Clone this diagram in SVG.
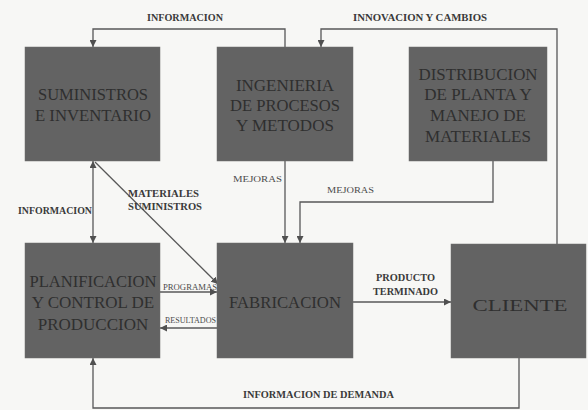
<svg xmlns="http://www.w3.org/2000/svg" width="588" height="410" viewBox="0 0 588 410">
<style>
.box{fill:#636363;stroke:#6e6e6e;stroke-width:0.5}
.bt{font-family:"Liberation Serif","Times New Roman",serif;font-size:17px;fill:#2f2f2f;text-anchor:middle}
.lb{font-family:"Liberation Serif","Times New Roman",serif;font-size:10px;font-weight:bold;fill:#3a3a3a}
.ls{font-family:"Liberation Serif","Times New Roman",serif;font-size:9px;fill:#4a4a4a}
.c{fill:none;stroke:#585858;stroke-width:1.3}
</style>
<defs>
<marker id="ah" viewBox="0 0 10 10" refX="10" refY="5" markerWidth="7" markerHeight="7" markerUnits="userSpaceOnUse" orient="auto-start-reverse">
<path d="M0,0 L10,5 L0,10 z" fill="#505050"/>
</marker>
</defs>
<rect width="588" height="410" fill="#f7f7f5"/>
<g id="connectors">
<polyline class="c" points="285,47 285,29 93,29 93,47" marker-end="url(#ah)"/>
<polyline class="c" points="557,244 557,29 321,29 321,47" marker-end="url(#ah)"/>
<line class="c" x1="93" y1="161" x2="93" y2="243" marker-start="url(#ah)" marker-end="url(#ah)"/>
<line class="c" x1="95" y1="162" x2="218" y2="284" marker-end="url(#ah)"/>
<line class="c" x1="285" y1="161" x2="285" y2="243" marker-end="url(#ah)"/>
<polyline class="c" points="493,161 493,202 300,202 300,243" marker-end="url(#ah)"/>
<line class="c" x1="160" y1="292" x2="217" y2="292" marker-end="url(#ah)"/>
<line class="c" x1="217" y1="328" x2="160" y2="328" marker-end="url(#ah)"/>
<line class="c" x1="353" y1="302" x2="451" y2="302" marker-end="url(#ah)"/>
<polyline class="c" points="519,358 519,408 93,408 93,358" marker-end="url(#ah)"/>
<text class="lb" x="147" y="21" textLength="76" lengthAdjust="spacingAndGlyphs">INFORMACION</text>
<text class="lb" x="353" y="21" textLength="134" lengthAdjust="spacingAndGlyphs">INNOVACION Y CAMBIOS</text>
<text class="lb" x="18" y="214" textLength="74" lengthAdjust="spacingAndGlyphs">INFORMACION</text>
<text class="lb" x="128" y="197" textLength="71" lengthAdjust="spacingAndGlyphs">MATERIALES</text>
<text class="lb" x="128" y="210" textLength="74" lengthAdjust="spacingAndGlyphs">SUMINISTROS</text>
<text class="ls" x="233" y="182" textLength="49" lengthAdjust="spacingAndGlyphs">MEJORAS</text>
<text class="ls" x="327" y="193" textLength="47" lengthAdjust="spacingAndGlyphs">MEJORAS</text>
<text class="ls" x="163" y="290" font-size="7.5" textLength="54" lengthAdjust="spacingAndGlyphs">PROGRAMAS</text>
<text class="ls" x="165" y="323" font-size="7.5" textLength="51" lengthAdjust="spacingAndGlyphs">RESULTADOS</text>
<text class="lb" x="376" y="281" textLength="59" lengthAdjust="spacingAndGlyphs">PRODUCTO</text>
<text class="lb" x="373" y="295" textLength="65" lengthAdjust="spacingAndGlyphs">TERMINADO</text>
<text class="lb" x="243" y="398" textLength="151" lengthAdjust="spacingAndGlyphs">INFORMACION DE DEMANDA</text>
</g>
<g id="suministros">
<rect class="box" x="25" y="47" width="135" height="114"/>
<text class="bt" x="93" y="100" textLength="110" lengthAdjust="spacingAndGlyphs">SUMINISTROS</text>
<text class="bt" x="93" y="121" textLength="116" lengthAdjust="spacingAndGlyphs">E INVENTARIO</text>
</g>
<g id="ingenieria">
<rect class="box" x="217" y="47" width="136" height="114"/>
<text class="bt" x="285" y="91">INGENIERIA</text>
<text class="bt" x="285" y="111" textLength="110" lengthAdjust="spacingAndGlyphs">DE PROCESOS</text>
<text class="bt" x="285" y="131">Y METODOS</text>
</g>
<g id="distribucion">
<rect class="box" x="409" y="47" width="138" height="114"/>
<text class="bt" x="478" y="80" textLength="119" lengthAdjust="spacingAndGlyphs">DISTRIBUCION</text>
<text class="bt" x="478" y="100">DE PLANTA Y</text>
<text class="bt" x="478" y="121">MANEJO DE</text>
<text class="bt" x="478" y="142">MATERIALES</text>
</g>
<g id="planificacion">
<rect class="box" x="25" y="243" width="135" height="115"/>
<text class="bt" x="93" y="287" textLength="127" lengthAdjust="spacingAndGlyphs">PLANIFICACION</text>
<text class="bt" x="93" y="308">Y CONTROL DE</text>
<text class="bt" x="93" y="330">PRODUCCION</text>
</g>
<g id="fabricacion">
<rect class="box" x="217" y="243" width="136" height="115"/>
<text class="bt" x="285" y="308" textLength="112" lengthAdjust="spacingAndGlyphs">FABRICACION</text>
</g>
<g id="cliente">
<rect class="box" x="451" y="244" width="135" height="114"/>
<text class="bt" x="520" y="311" font-size="25" textLength="95" lengthAdjust="spacingAndGlyphs">CLIENTE</text>
</g>
</svg>
